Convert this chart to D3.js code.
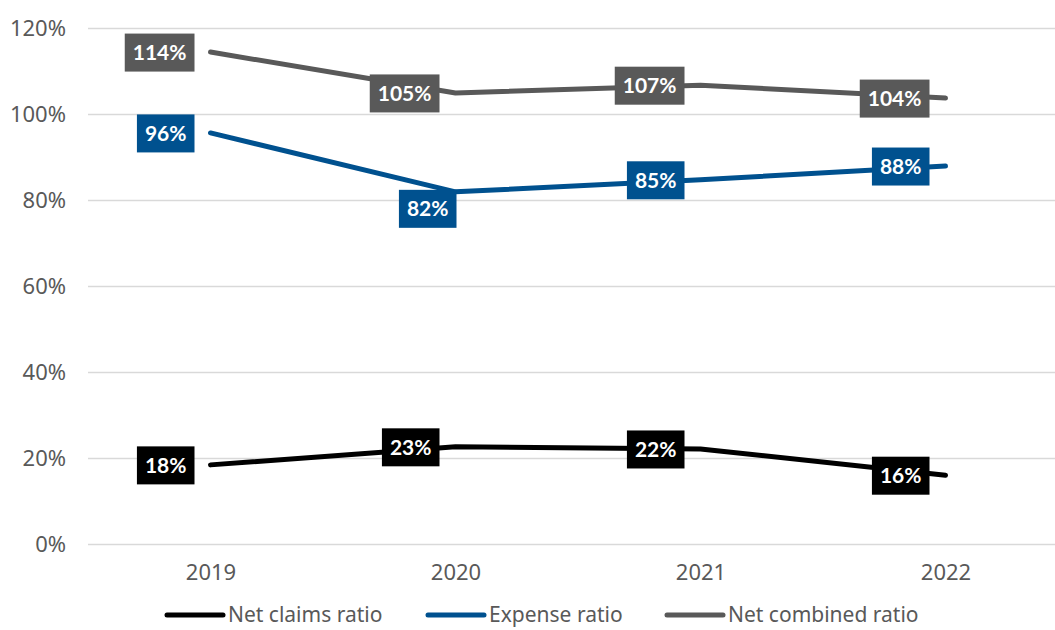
<!DOCTYPE html>
<html>
<head>
<meta charset="utf-8">
<script src="https://cdn.jsdelivr.net/npm/d3@7"></script>
<style>
  body { margin: 0; background: #fff; }
  svg { display: block; }
</style>
</head>
<body>
<svg id="chart"></svg>
<script>
// Chart data
const years = ["2019", "2020", "2021", "2022"];
const netClaims = [0.184, 0.226, 0.221, 0.160];
const expense = [0.956, 0.819, 0.847, 0.879];
const netCombined = [1.144, 1.049, 1.067, 1.037];
const yTicks = [0, 0.2, 0.4, 0.6, 0.8, 1.0, 1.2];

const seriesNames = ["Net claims ratio", "Expense ratio", "Net combined ratio"];
const seriesColors = ["#000000", "#00518f", "#595959"];

const W = 1055, H = 630;
const margin = { top: 28, right: -13, bottom: 86, left: 88 };
const width = W - margin.left - margin.right;
const height = H - margin.top - margin.bottom;

const svg = d3.select("#chart").attr("width", W).attr("height", H);
const g = svg.append("g").attr("transform", "translate(" + margin.left + "," + margin.top + ")");

const x = d3.scalePoint().domain(years).range([0, width]).padding(0.5);
const y = d3.scaleLinear().domain([0, 1.2]).range([height, 0]);

// Grid lines + y labels
const yAxis = g.append("g")
    .call(d3.axisLeft(y).tickValues(yTicks).tickSize(-width).tickPadding(22).tickFormat(d3.format(".0%")));
yAxis.select(".domain").remove();
yAxis.selectAll("line").attr("stroke", "#d9d9d9").attr("stroke-width", 1.5);
yAxis.selectAll("text")
    .style("font-family", "'Noto Sans', sans-serif")
    .style("font-size", "22px")
    .attr("fill", "#595959");

// X axis labels
const xAxis = g.append("g")
    .attr("transform", "translate(0," + height + ")")
    .call(d3.axisBottom(x).tickSize(0).tickPadding(20));
xAxis.select(".domain").remove();
xAxis.selectAll("text")
    .style("font-family", "'Noto Sans', sans-serif")
    .style("font-size", "22px")
    .attr("fill", "#595959");

const series = [netClaims, expense, netCombined].map((vals, i) => ({
    name: seriesNames[i],
    color: seriesColors[i],
    values: vals.map((v, j) => ({ year: years[j], value: v }))
}));

const line = d3.line().x(d => x(d.year)).y(d => y(d.value));

g.selectAll(".series-line")
    .data(series)
    .enter().append("path")
    .attr("class", "series-line")
    .attr("fill", "none")
    .attr("stroke", d => d.color)
    .attr("stroke-width", 5)
    .attr("stroke-linecap", "round")
    .attr("stroke-linejoin", "round")
    .attr("d", d => line(d.values));

// Data labels: boxes to the left of the points (82% sits below)
const fmt = d3.format(".0%");
series.forEach(s => {
    s.values.forEach(d => {
        const px = x(d.year), py = y(d.value);
        const below = s.name === "Expense ratio" && d.year === "2020";
        const lg = g.append("g");
        const t = lg.append("text")
            .attr("text-anchor", "middle")
            .attr("dy", "0.35em")
            .style("font-family", "Lato, sans-serif")
            .style("font-weight", "bold")
            .style("font-size", "21px")
            .attr("fill", "#fff")
            .text(fmt(d.value));
        const tw = t.node().getComputedTextLength();
        const bw = tw + 16, bh = 38;
        let cx, cy;
        if (below) {
            cx = px - bw / 2 + 1;
            cy = py + 17;
        } else {
            cx = px - 16 - bw / 2;
            cy = py + 0.5;
        }
        lg.insert("rect", "text")
            .attr("x", cx - bw / 2)
            .attr("y", cy - bh / 2)
            .attr("width", bw)
            .attr("height", bh)
            .attr("fill", s.color);
        t.attr("x", cx).attr("y", cy);
    });
});

// Legend
const legendX = [167, 428, 667];
const legend = svg.append("g").attr("transform", "translate(0,615)");
series.forEach((s, i) => {
    legend.append("line")
        .attr("x1", legendX[i]).attr("x2", legendX[i] + 56)
        .attr("y1", 0).attr("y2", 0)
        .attr("stroke", s.color)
        .attr("stroke-width", 5)
        .attr("stroke-linecap", "round");
    legend.append("text")
        .attr("x", legendX[i] + 61)
        .attr("y", 0)
        .attr("dy", "0.35em")
        .style("font-family", "'Noto Sans', sans-serif")
        .style("font-size", "21px")
        .attr("fill", "#595959")
        .text(s.name);
});
</script>
</body>
</html>
